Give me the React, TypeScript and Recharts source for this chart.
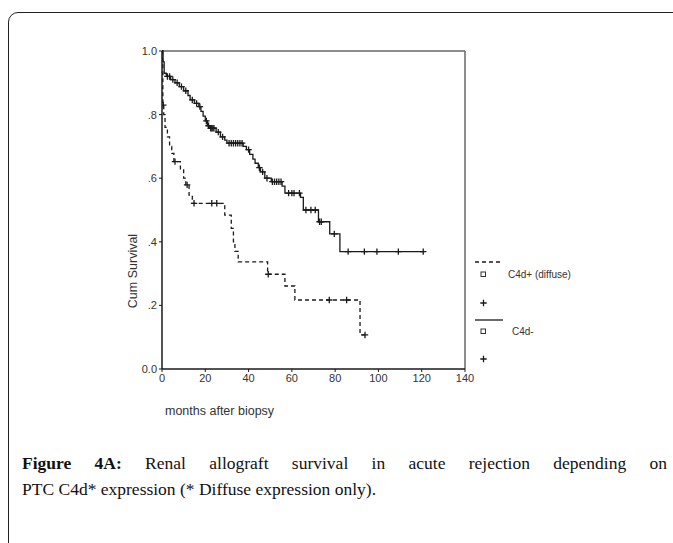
import React from 'react';
import {
  ComposedChart, Line, Scatter, XAxis, YAxis, ReferenceLine,
} from 'recharts';

// ─── Data ─────────────────────────────────────────────────────────────────────
// C4d- : Kaplan-Meier step points (months, cumulative survival)
const negTimes = [0, 0.5, 1, 2, 4, 6, 8, 10, 12, 13, 15, 17, 18, 19, 20, 21, 22, 25, 27, 29, 30, 37.5, 39, 40.5, 42, 43, 44.5, 45.5, 47.5, 50.5, 55.5, 56.8, 64, 65.3, 72.3, 77.5, 82.2, 121];
const negSurv = [1, 0.966, 0.93, 0.92, 0.91, 0.9, 0.888, 0.875, 0.86, 0.846, 0.835, 0.825, 0.81, 0.795, 0.78, 0.765, 0.757, 0.745, 0.73, 0.72, 0.71, 0.7, 0.69, 0.675, 0.66, 0.647, 0.633, 0.62, 0.6, 0.589, 0.575, 0.553, 0.54, 0.5, 0.463, 0.425, 0.369, 0.369];
const negCensorTimes = [2.5, 3.5, 5, 7, 9, 11, 14, 16, 17.5, 20.5, 21.5, 22.5, 23, 23.5, 24, 26, 28, 31, 32, 33, 34, 35, 36, 37, 40, 45, 46.5, 48.5, 51, 52, 53, 54, 55, 58.5, 60, 61, 63.5, 66.5, 68.8, 70.8, 72.8, 73.6, 79.6, 86, 93.5, 99.3, 109.2, 120.7];

// C4d+ (diffuse)
const posTimes = [0, 0.2, 0.4, 0.8, 1.4, 2.5, 3.5, 4.5, 5.5, 8.5, 10, 11, 12.5, 14, 29, 32, 33, 33.7, 35.2, 48.8, 56.8, 61.4, 91.5, 93.8];
const posSurv = [1, 0.97, 0.83, 0.8, 0.76, 0.73, 0.7, 0.678, 0.652, 0.626, 0.6, 0.579, 0.547, 0.521, 0.484, 0.442, 0.4, 0.37, 0.337, 0.298, 0.261, 0.217, 0.107, 0.107];
const posCensorTimes = [0.6, 6, 11.6, 14.8, 23, 25.3, 49.1, 77.3, 85.3, 93.8];

const xTicks = [0, 20, 40, 60, 80, 100, 120, 140];
const yTicks = [0, 0.2, 0.4, 0.6, 0.8, 1];
const yTickLabels = ['0.0', '.2', '.4', '.6', '.8', '1.0'];

// ─── helpers ──────────────────────────────────────────────────────────────────
const toSeries = (ts: number[], ss: number[]) => ts.map((t, i) => ({ t, s: ss[i] }));
// a censor mark sits on the step curve at its time
const onCurve = (ts: number[], ss: number[], ct: number[]) =>
  ct.map((t) => {
    let s = ss[0];
    ts.forEach((tt, i) => { if (tt <= t) s = ss[i]; });
    return { t, s };
  });

const negData = toSeries(negTimes, negSurv);
const posData = toSeries(posTimes, posSurv);
const negCensor = onCurve(negTimes, negSurv, negCensorTimes);
const posCensor = onCurve(posTimes, posSurv, posCensorTimes);

const INK = '#1a1a1a';
const SANS = '"Liberation Sans", Arial, sans-serif';

const Plus: React.FC<any> = ({ cx, cy }) => (
  <path d={`M${cx - 3.2},${cy}h6.4M${cx},${cy - 3.2}v6.4`} stroke={INK} strokeWidth={1.3} fill="none" />
);

// ─── App ──────────────────────────────────────────────────────────────────────
export default function App() {
  return (
    <div style={{ position: 'absolute', left: 0, top: 0, width: 673, height: 543, overflow: 'hidden', background: '#fff' }}>
      {/* figure frame */}
      <div style={{
        position: 'absolute', left: 8, top: 12, width: 720, height: 620,
        border: '1.5px solid #222', borderRadius: 10, boxSizing: 'border-box',
      }} />

      <div style={{ position: 'absolute', left: 0, top: 0 }}>
        <ComposedChart
          width={673} height={430}
          margin={{ top: 51, right: 208, bottom: 41, left: 122 }}
        >
          <XAxis
            dataKey="t" type="number" domain={[0, 140]} ticks={xTicks}
            allowDataOverflow height={20}
            tick={{ fontSize: 11, fill: '#333', fontFamily: SANS }}
            tickSize={3} tickLine={{ stroke: INK }}
            axisLine={{ stroke: INK, strokeWidth: 1.5 }}
          />
          <YAxis
            dataKey="s" type="number" domain={[0, 1]} ticks={yTicks} width={40}
            tickFormatter={(v: number) => yTickLabels[yTicks.indexOf(v)]}
            tick={{ fontSize: 11, fill: '#333', fontFamily: SANS }}
            tickSize={3} tickLine={{ stroke: INK }}
            axisLine={{ stroke: INK, strokeWidth: 1.5 }}
          />
          <ReferenceLine y={1} stroke="#666" strokeWidth={1.5} />
          <ReferenceLine x={140} stroke="#666" strokeWidth={1.5} />
          <Line
            data={negData} dataKey="s" type="stepAfter" stroke={INK} strokeWidth={1.3}
            dot={false} isAnimationActive={false}
          />
          <Line
            data={posData} dataKey="s" type="stepAfter" stroke={INK} strokeWidth={1.3}
            strokeDasharray="4 3" dot={false} isAnimationActive={false}
          />
          <Scatter data={negCensor} dataKey="s" shape={<Plus />} isAnimationActive={false} />
          <Scatter data={posCensor} dataKey="s" shape={<Plus />} isAnimationActive={false} />
        </ComposedChart>
      </div>

      {/* axis titles and legend */}
      <svg width={673} height={543} style={{ position: 'absolute', left: 0, top: 0, pointerEvents: 'none' }}>
        <text
          x={137} y={271} transform="rotate(-90 137 271)" textAnchor="middle"
          fontFamily={SANS} fontSize={12.5} fill="#333"
        >Cum Survival</text>
        <text x={165} y={415} fontFamily={SANS} fontSize={12.5} fill="#333">months after biopsy</text>

        <line x1={475} x2={503} y1={262} y2={262} stroke={INK} strokeWidth={1.3} strokeDasharray="4 3" />
        <rect x={481} y={272} width={4.5} height={4.5} fill="none" stroke="#333" strokeWidth={1} />
        <text x={508} y={278} fontFamily={SANS} fontSize={10} fill="#333">C4d+ (diffuse)</text>
        <Plus cx={483.5} cy={303} />
        <line x1={475} x2={503} y1={320} y2={320} stroke={INK} strokeWidth={1.3} />
        <rect x={481} y={329} width={4.5} height={4.5} fill="none" stroke="#333" strokeWidth={1} />
        <text x={512} y={335} fontFamily={SANS} fontSize={10} fill="#333">C4d-</text>
        <Plus cx={483.5} cy={359} />
      </svg>

      {/* caption */}
      <div style={{
        position: 'absolute', left: 22, top: 450, width: 645,
        fontFamily: '"Liberation Serif", "Times New Roman", serif', fontSize: 17.5, lineHeight: '26px', color: '#111',
      }}>
        <div style={{ textAlign: 'justify', textAlignLast: 'justify', whiteSpace: 'nowrap' }}>
          <b>Figure 4A:</b> Renal allograft survival in acute rejection depending on
        </div>
        <div>PTC C4d* expression (* Diffuse expression only).</div>
      </div>
    </div>
  );
}
